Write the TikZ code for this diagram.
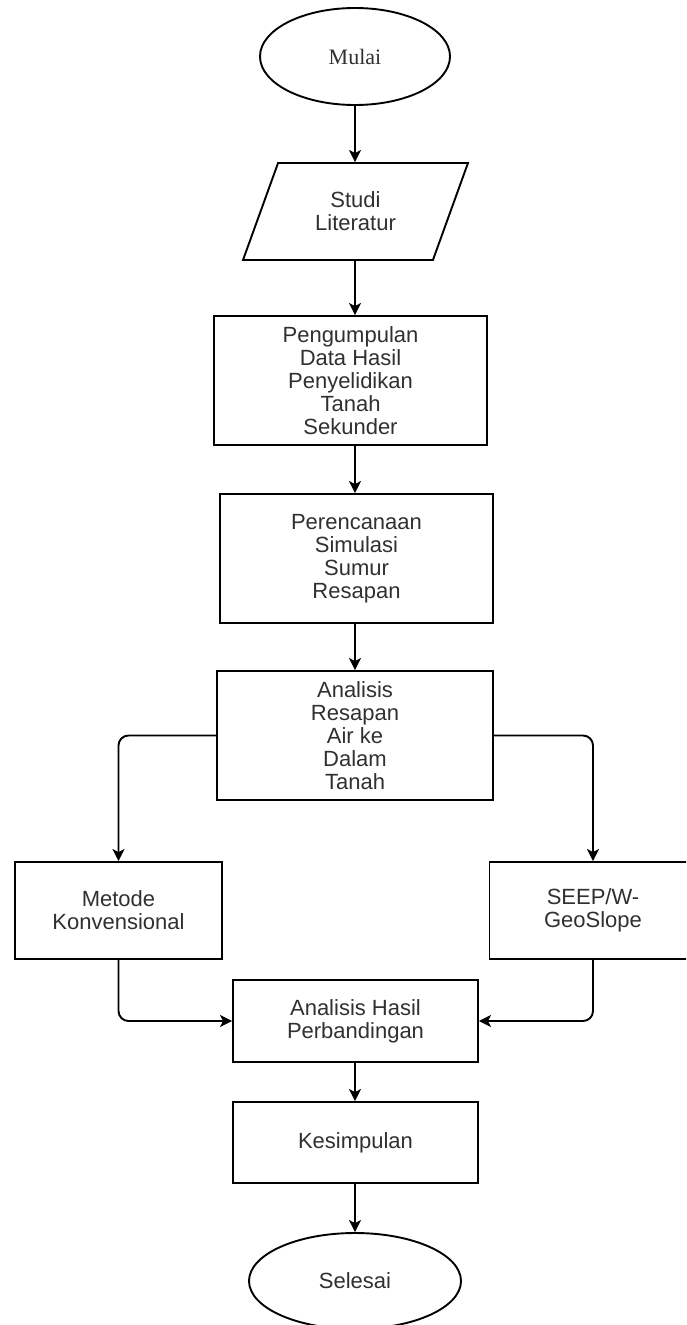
\documentclass[tikz,border=0pt]{standalone}
\usepackage{fontspec}
\setmainfont{Liberation Sans}
\newfontfamily\serifface{Liberation Serif}
\usetikzlibrary{shapes.geometric,arrows.meta,calc}
\definecolor{txt}{HTML}{303030}
\tikzset{
  base/.style={draw=black, line width=1.9pt, text=txt, align=center, inner sep=0pt,
    font=\fontsize{22}{23}\selectfont},
  terminal/.style={base, ellipse, minimum width=#1},
  terminal/.default=190pt,
  iobox/.style={base, trapezium, trapezium left angle=65, trapezium right angle=115,
    trapezium stretches=true, minimum width=225pt, minimum height=97pt},
  procbox/.style={base, rectangle},
  conn/.style={draw=black, line width=1.9pt, rounded corners=10pt,
    -{Stealth[length=12pt,width=12pt,inset=3pt]}}
}
\begin{document}
\begin{tikzpicture}[x=1pt,y=-1pt]
\useasboundingbox (0,0) rectangle (686,1325);
\clip (0,0) rectangle (686,1325);
\node[terminal=190pt, minimum height=97pt, font=\serifface\fontsize{22}{23}\selectfont] (mulai) at (355,56.5) {Mulai};
\node[iobox] (studi) at (355.5,211.5) {Studi\\Literatur};
\node[procbox, minimum width=273pt, minimum height=129pt] (peng) at (350.5,380.5) {Pengumpulan\\Data Hasil\\Penyelidikan\\Tanah\\Sekunder};
\node[procbox, minimum width=273pt, minimum height=129pt] (peren) at (356.5,558.5) {Perencanaan\\Simulasi\\Sumur\\Resapan};
\node[procbox, minimum width=276pt, minimum height=129pt] (anal) at (355,735.5) {Analisis\\Resapan\\Air ke\\Dalam\\Tanah};
\node[procbox, minimum width=207pt, minimum height=97pt] (metode) at (118.5,910.5) {Metode\\Konvensional};
\node[procbox, minimum width=207pt, minimum height=97pt] (seep) at (593,910.5) {SEEP/W-\\GeoSlope};
\node[procbox, minimum width=245pt, minimum height=82pt] (hasil) at (355.5,1021) {Analisis Hasil\\Perbandingan};
\node[procbox, minimum width=245pt, minimum height=81pt] (kes) at (355.5,1142.5) {Kesimpulan};
\node[terminal=212pt, minimum height=96pt] (selesai) at (355,1281) {Selesai};
\coordinate (col) at (355,0);
\draw[conn] (mulai.south) -- (col |- studi.north);
\draw[conn] (col |- studi.south) -- (col |- peng.north);
\draw[conn] (col |- peng.south) -- (col |- peren.north);
\draw[conn] (col |- peren.south) -- (col |- anal.north);
\draw[conn] (anal.west) -- (metode.north |- anal.west) -- (metode.north);
\draw[conn] (anal.east) -- (seep.north |- anal.east) -- (seep.north);
\draw[conn] (metode.south) -- (metode.south |- hasil.west) -- (hasil.west);
\draw[conn] (seep.south) -- (seep.south |- hasil.east) -- (hasil.east);
\draw[conn] (col |- hasil.south) -- (col |- kes.north);
\draw[conn] (col |- kes.south) -- (selesai.north);
\end{tikzpicture}
\end{document}
